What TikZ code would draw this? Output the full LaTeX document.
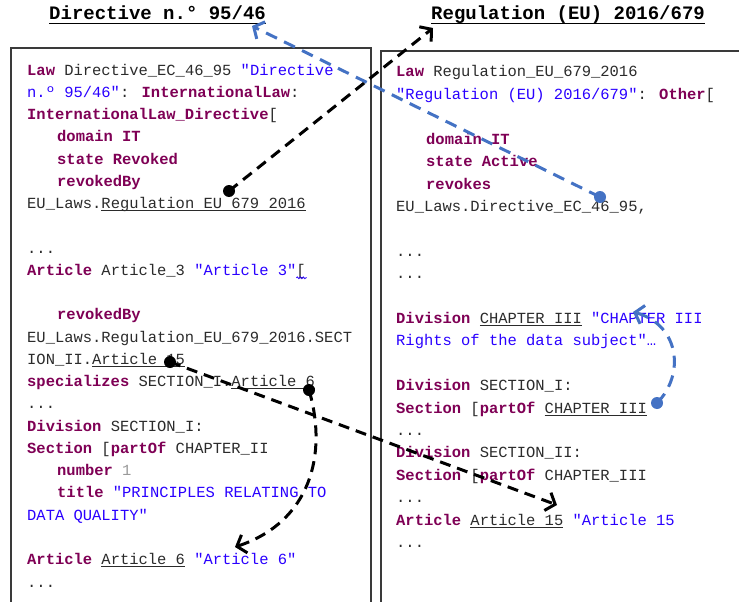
\documentclass[tikz,border=0pt]{standalone}
\usepackage{fontspec}
\usetikzlibrary{arrows.meta,decorations.pathmorphing}
\newfontfamily\codefont{Liberation Mono}
\newcommand{\cfont}{\codefont\fontsize{15.47}{18}\selectfont}
\newcommand{\tfont}{\codefont\bfseries\fontsize{19}{22}\selectfont}
\definecolor{kwc}{HTML}{7F0055}
\definecolor{strc}{HTML}{2A00FF}
\definecolor{txt}{HTML}{2B2B2B}
\definecolor{numc}{HTML}{999999}
\definecolor{boxc}{HTML}{3A3A3A}
\definecolor{arrowblue}{HTML}{4472C4}
\newcommand{\kw}[1]{\textcolor{kwc}{\bfseries #1}}
\newcommand{\str}[1]{\textcolor{strc}{#1}}
\newcommand{\ul}[1]{{\setbox0\hbox{#1}\rlap{\rule[-2.6pt]{\wd0}{1.1pt}}\box0}}
\begin{document}
\begin{tikzpicture}[x=1pt,y=-1pt,
  code/.style={anchor=base west,inner sep=0pt,font=\cfont,text=txt},
  ttl/.style={anchor=base west,inner sep=0pt,font=\tfont,text=black},
  boxline/.style={draw=boxc,line width=1.2pt},
  blk/.style={draw=black,line width=3pt,dash pattern=on 11pt off 7pt,-{Straight Barb[length=8pt,width=19pt]}},
  blu/.style={draw=arrowblue,line width=3pt,dash pattern=on 12pt off 8pt,-{Straight Barb[length=8pt,width=19pt]}},
  dotb/.style={circle,fill=black,inner sep=0pt,minimum size=12pt},
  dotu/.style={circle,fill=arrowblue,inner sep=0pt,minimum size=12pt}]
\useasboundingbox (0,0) rectangle (739,602);
\fill[white] (0,0) rectangle (739,602);
% boxes
\draw[boxline] (11,640) -- (11,48) -- (371,48) -- (371,640);
\draw[boxline] (381,640) -- (381,51) -- (760,51);
% titles
\node[ttl] (T1) at (49,20) {Directive n.° 95/46};
\node[ttl] (T2) at (431,20) {Regulation (EU) 2016/679};
\draw[line width=1.5pt] ([yshift=-3.5pt]T1.base west) -- ([yshift=-3.5pt]T1.base east);
\draw[line width=1.5pt] ([yshift=-3.5pt]T2.base west) -- ([yshift=-3.5pt]T2.base east);
% left text
\node[code] (L0) at (27,75) {\kw{Law} Directive\_EC\_46\_95 \str{"Directive}};
\node[code] (L1) at (27,97.3) {\str{n.º 95/46"}: \kw{InternationalLaw}:};
\node[code] (L2) at (27,119.5) {\kw{InternationalLaw\_Directive}[};
\node[code] (L3) at (57,141.8) {\kw{domain IT}};
\node[code] (L4) at (57,164) {\kw{state Revoked}};
\node[code] (L5) at (57,186.3) {\kw{revokedBy}};
\node[code] (L6) at (27,208.6) {EU\_Laws.\ul{Regulation EU 679 2016}};
\node[code] (L8) at (27,253.1) {...};
\node[code] (L9) at (27,275.3) {\kw{Article} Article\_3 \str{"Article 3"}[};
\node[code] (L11) at (57,319.9) {\kw{revokedBy}};
\node[code] (L12) at (27,342.1) {EU\_Laws.Regulation\_EU\_679\_2016.SECT};
\node[code] (L13) at (27,364.4) {ION\_II.\ul{Article 15}};
\node[code] (L14) at (27,386.6) {\kw{specializes} SECTION\_I.\ul{Article 6}};
\node[code] (L15) at (27,408.9) {...};
\node[code] (L16) at (27,431.2) {\kw{Division} SECTION\_I:};
\node[code] (L17) at (27,453.4) {\kw{Section} [\kw{partOf} CHAPTER\_II};
\node[code] (L18) at (57,475.7) {\kw{number} \textcolor{numc}{1}};
\node[code] (L19) at (57,497.9) {\kw{title} \str{"PRINCIPLES RELATING TO}};
\node[code] (L20) at (27,520.2) {\str{DATA QUALITY"}};
\node[code] (L22) at (27,564.7) {\kw{Article} \ul{Article 6} \str{"Article 6"}};
\node[code] (L23) at (27,587) {...};
\draw[strc,line width=0.8pt,decorate,decoration={snake,amplitude=0.9pt,segment length=3pt}] ([xshift=-9.5pt,yshift=-2.5pt]L9.base east) -- ([xshift=1pt,yshift=-2.5pt]L9.base east);
% right text
\node[code] (R0) at (396,77) {\kw{Law} Regulation\_EU\_679\_2016};
\node[code] (R1) at (396,99.4) {\str{"Regulation (EU) 2016/679"}: \kw{Other}[};
\node[code] (R3) at (426,144.2) {\kw{domain IT}};
\node[code] (R4) at (426,166.6) {\kw{state Active}};
\node[code] (R5) at (426,189) {\kw{revokes}};
\node[code] (R6) at (396,211.4) {EU\_Laws.Directive\_EC\_46\_95,};
\node[code] (R8) at (396,256.2) {...};
\node[code] (R9) at (396,278.6) {...};
\node[code] (R11) at (396,323.4) {\kw{Division} \ul{CHAPTER III} \str{"CHAPTER III}};
\node[code] (R12) at (396,345.8) {\str{Rights of the data subject"…}};
\node[code] (R14) at (396,390.6) {\kw{Division} SECTION\_I:};
\node[code] (R15) at (396,413) {\kw{Section} [\kw{partOf} \ul{CHAPTER III}};
\node[code] (R16) at (396,435.4) {...};
\node[code] (R17) at (396,457.8) {\kw{Division} SECTION\_II:};
\node[code] (R18) at (396,480.2) {\kw{Section} [\kw{partOf} CHAPTER\_III};
\node[code] (R19) at (396,502.6) {...};
\node[code] (R20) at (396,525) {\kw{Article} \ul{Article 15} \str{"Article 15}};
\node[code] (R21) at (396,547.4) {...};
% arrow endpoints
\coordinate (a1) at (433,28);
\coordinate (a2) at (252,26);
\coordinate (a3) at (557,505);
\coordinate (a4) at (235,547);
\coordinate (a5) at (633,312);
% dot positions
\coordinate (p1) at (229,191);
\coordinate (p2) at (600,197);
\coordinate (p3) at (170,362);
\coordinate (p4) at (309,390);
\coordinate (p5) at (657,403);
% connectors
\draw[blk] (p1) -- (a1);
\draw[blu] (p2) -- (a2);
\draw[blk] (p3) -- (a3);
\draw[blk] (p4) .. controls (328,455) and (310,522) .. (a4);
\draw[blu] (p5) .. controls (685,375) and (680,325) .. (a5);
% dots
\node[dotb] (d1) at (p1) {};
\node[dotu] (d2) at (p2) {};
\node[dotb] (d3) at (p3) {};
\node[dotb] (d4) at (p4) {};
\node[dotu] (d5) at (p5) {};
\end{tikzpicture}
\end{document}
